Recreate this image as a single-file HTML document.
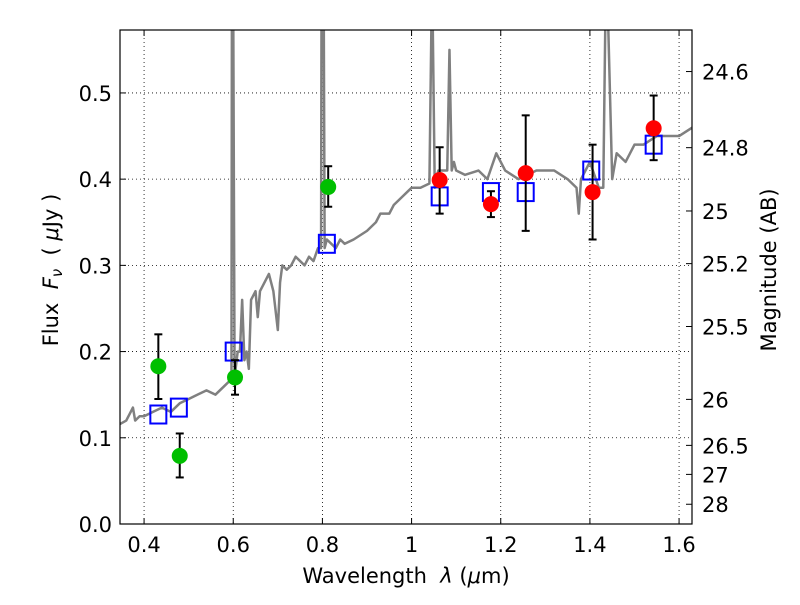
<!DOCTYPE html>
<html><head><meta charset="utf-8"><style>
body{margin:0;background:#fff}
svg text{font-family:"DejaVu Sans","Liberation Sans",sans-serif}
</style></head><body>
<svg id="c" width="800" height="600" xmlns="http://www.w3.org/2000/svg"></svg>
<script>
const xTicks=[0.4,0.6,0.8,1.0,1.2,1.4,1.6];
const xTickLabels=["0.4","0.6","0.8","1","1.2","1.4","1.6"];
const yTicks=[0,0.1,0.2,0.3,0.4,0.5];
const yTickLabels=["0.0","0.1","0.2","0.3","0.4","0.5"];
const magTicks=[24.6,24.8,25,25.2,25.5,26,26.5,27,28];
const specLam=[0.346,0.36,0.37,0.375,0.38,0.39,0.40,0.42,0.44,0.46,0.48,0.50,0.52,0.54,0.56,0.58,0.59,0.596,0.597,0.600,0.603,0.61,0.615,0.62,0.625,0.63,0.635,0.64,0.65,0.655,0.66,0.67,0.68,0.69,0.70,0.705,0.71,0.72,0.73,0.74,0.75,0.76,0.77,0.78,0.79,0.797,0.798,0.803,0.805,0.81,0.82,0.83,0.84,0.85,0.87,0.90,0.92,0.93,0.95,0.96,0.98,0.99,1.0,1.02,1.04,1.045,1.047,1.052,1.055,1.06,1.07,1.08,1.085,1.09,1.095,1.10,1.12,1.15,1.17,1.19,1.21,1.24,1.28,1.32,1.35,1.37,1.375,1.38,1.40,1.42,1.43,1.435,1.44,1.45,1.46,1.48,1.50,1.52,1.55,1.58,1.60,1.63];
const specFlux=[0.116,0.12,0.13,0.135,0.12,0.125,0.125,0.13,0.135,0.13,0.14,0.145,0.15,0.155,0.15,0.16,0.165,0.17,0.6,0.6,0.17,0.2,0.2,0.26,0.19,0.2,0.18,0.26,0.27,0.24,0.27,0.28,0.29,0.27,0.225,0.28,0.3,0.295,0.3,0.31,0.305,0.3,0.31,0.305,0.32,0.32,0.6,0.6,0.32,0.33,0.325,0.32,0.33,0.325,0.33,0.34,0.35,0.36,0.36,0.37,0.38,0.385,0.39,0.39,0.395,0.6,0.6,0.39,0.4,0.41,0.41,0.41,0.55,0.41,0.42,0.41,0.405,0.41,0.4,0.43,0.41,0.4,0.41,0.41,0.4,0.39,0.36,0.4,0.42,0.39,0.39,0.6,0.6,0.4,0.43,0.42,0.44,0.44,0.45,0.45,0.45,0.46];
const gLam=[0.432,0.48,0.604,0.813];
const gFlux=[0.183,0.079,0.170,0.391];
const gLo=[0.145,0.054,0.150,0.368];
const gHi=[0.220,0.105,0.190,0.415];
const rLam=[1.063,1.178,1.256,1.406,1.543];
const rFlux=[0.399,0.371,0.407,0.385,0.459];
const rLo=[0.360,0.356,0.340,0.330,0.422];
const rHi=[0.437,0.386,0.474,0.440,0.497];
const bLam=[0.432,0.478,0.601,0.81,1.063,1.178,1.256,1.403,1.543];
const bFlux=[0.127,0.135,0.200,0.325,0.380,0.385,0.385,0.410,0.440];

const L=120,R=692,T=30,B=524,X0=0.346,X1=1.629,Y0=0,Y1=0.573;
const sx=v=>L+(v-X0)/(X1-X0)*(R-L), sy=v=>B-(v-Y0)/(Y1-Y0)*(B-T);
const svg=document.getElementById('c'),NS='http://www.w3.org/2000/svg';
function mk(t,a,p){const e=document.createElementNS(NS,t);for(const k in a)e.setAttribute(k,a[k]);(p||svg).appendChild(e);return e;}
const defs=mk('defs',{});const cp=mk('clipPath',{id:'pc'},defs);mk('rect',{x:L,y:T,width:R-L,height:B-T},cp);
xTicks.forEach((v,i)=>{const x=sx(v);
 const g=mk('line',{x1:x,x2:x,y1:T,y2:B,stroke:'#000','stroke-dasharray':'1,3','stroke-width':0.8});
 
 mk('line',{x1:x,x2:x,y1:B,y2:B-6,stroke:'#000'});mk('line',{x1:x,x2:x,y1:T,y2:T+6,stroke:'#000'});
 const t=mk('text',{x:x,y:B+28,'text-anchor':'middle','font-size':21});t.textContent=xTickLabels[i];
 });
yTicks.forEach((v,i)=>{const y=sy(v);
 const g=mk('line',{x1:L,x2:R,y1:y,y2:y,stroke:'#000','stroke-dasharray':'1,3','stroke-width':0.8});
 
 mk('line',{x1:L,x2:L+6,y1:y,y2:y,stroke:'#000'});
 const t=mk('text',{x:L-8,y:y+8,'text-anchor':'end','font-size':21});t.textContent=yTickLabels[i];
 });
magTicks.forEach(m=>{const f=Math.pow(10,(23.9-m)/2.5);const y=sy(f);
 mk('line',{x1:R,x2:R-6,y1:y,y2:y,stroke:'#000'});
 const t=mk('text',{x:R+10,y:y+8,'font-size':21});t.textContent=String(m);
 });
const pg=mk('g',{'clip-path':'url(#pc)'});
const sp=mk('polyline',{points:specLam.map((l,i)=>sx(l)+','+sy(specFlux[i])).join(' '),fill:'none',stroke:'#808080','stroke-width':2.5,'stroke-linejoin':'round'},pg);

bLam.forEach((l,i)=>{const r=mk('rect',{x:sx(l)-8,y:sy(bFlux[i])-9,width:16,height:18,fill:'none',stroke:'#0000ff','stroke-width':2},pg);
 });
function pts(lam,fl,lo,hi,col,name){lam.forEach((l,i)=>{const x=sx(l);
 mk('line',{x1:x,x2:x,y1:sy(lo[i]),y2:sy(hi[i]),stroke:'#000','stroke-width':2},pg);
 mk('line',{x1:x-4,x2:x+4,y1:sy(lo[i]),y2:sy(lo[i]),stroke:'#000','stroke-width':2},pg);
 mk('line',{x1:x-4,x2:x+4,y1:sy(hi[i]),y2:sy(hi[i]),stroke:'#000','stroke-width':2},pg);
 const c=mk('circle',{cx:x,cy:sy(fl[i]),r:8,fill:col},pg);
 });}
pts(gLam,gFlux,gLo,gHi,'#00bf00','green-point');
pts(rLam,rFlux,rLo,rHi,'#ff0000','red-point');
const fr=mk('rect',{x:L,y:T,width:R-L,height:B-T,fill:'none',stroke:'#000','stroke-width':1.2});

</script>
<svg width="800" height="600" style="position:absolute;left:0;top:0" xmlns="http://www.w3.org/2000/svg">
<text x="406" y="583" text-anchor="middle" font-size="21" font-family="DejaVu Sans, sans-serif" xml:space="preserve">Wavelength  <tspan font-style="italic">λ</tspan> (<tspan font-style="italic">μ</tspan>m)</text>
<text transform="translate(58,270) rotate(-90)" text-anchor="middle" font-size="21" font-family="DejaVu Sans, sans-serif" xml:space="preserve">Flux  <tspan font-style="italic">F<tspan font-size="15" dy="4">ν</tspan></tspan><tspan dy="-4">  ( </tspan><tspan font-style="italic">μ</tspan>Jy )</text>
<text transform="translate(776,270) rotate(-90)" text-anchor="middle" font-size="21" font-family="DejaVu Sans, sans-serif">Magnitude (AB)</text>
</svg>
</body></html>
